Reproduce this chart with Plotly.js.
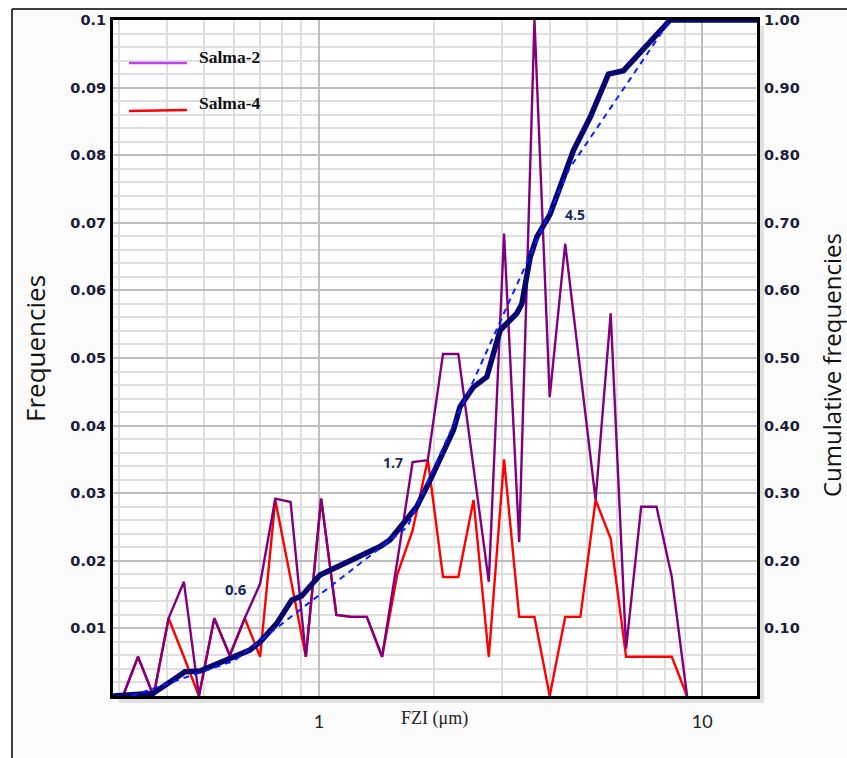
<!DOCTYPE html>
<html>
<head>
<meta charset="utf-8">
<script src="https://cdn.plot.ly/plotly-3.0.1.min.js"></script>
<style>html,body{margin:0;padding:0;background:#fff;}#chart{width:847px;height:758px;}</style>
</head>
<body>
<div id="chart"></div>
<script>
// FZI bin centres (µm)
const fzi = [0.308, 0.337, 0.370, 0.405, 0.444, 0.486, 0.533, 0.585, 0.640, 0.702, 0.769, 0.843, 0.924, 1.013, 1.110, 1.216, 1.333, 1.461, 1.601, 1.755, 1.923, 2.107, 2.310, 2.531, 2.774, 3.04, 3.33, 3.65, 4.00, 4.39, 4.81, 5.27, 5.77, 6.33, 6.93, 7.60, 8.33, 9.13];
// Frequencies
const salma2 = [0, 0.0058, 0, 0.0115, 0.0169, 0, 0.0115, 0.006, 0.0115, 0.0166, 0.0292, 0.0287, 0.0058, 0.0292, 0.012, 0.0117, 0.0117, 0.0058, 0.020, 0.0346, 0.0349, 0.0506, 0.0506, 0.034, 0.0169, 0.0684, 0.0228, 0.1, 0.0442, 0.0669, 0.048, 0.029, 0.0566, 0.007, 0.028, 0.028, 0.0176, 0];
const salma4 = [0, 0.0058, 0, 0.0115, 0.0058, 0, 0.0115, 0.006, 0.0115, 0.0058, 0.029, 0.0175, 0.0058, 0.0292, 0.012, 0.0117, 0.0117, 0.0058, 0.018, 0.0245, 0.035, 0.0176, 0.0176, 0.029, 0.0058, 0.035, 0.0117, 0.0117, 0, 0.0117, 0.0117, 0.029, 0.0233, 0.0058, 0.0058, 0.0058, 0.0058, 0];
// Cumulative frequencies
const cumX = [0.290, 0.369, 0.404, 0.447, 0.489, 0.541, 0.597, 0.660, 0.702, 0.775, 0.849, 0.901, 1.006, 1.112, 1.254, 1.359, 1.443, 1.532, 1.660, 1.799, 1.949, 2.112, 2.242, 2.334, 2.528, 2.741, 2.969, 3.282, 3.383, 3.556, 3.703, 4.010, 4.258, 4.434, 4.613, 5.101, 5.692, 6.232, 6.889, 7.462, 8.087, 8.249, 13.9];
const cumY = [0, 0.004, 0.019, 0.036, 0.037, 0.047, 0.058, 0.068, 0.080, 0.107, 0.142, 0.148, 0.179, 0.191, 0.206, 0.216, 0.221, 0.231, 0.255, 0.280, 0.319, 0.364, 0.393, 0.428, 0.457, 0.472, 0.541, 0.566, 0.580, 0.649, 0.679, 0.713, 0.753, 0.782, 0.807, 0.856, 0.920, 0.925, 0.952, 0.974, 0.994, 1.0, 1.0];
// Fitted straight segments (break points at FZI 0.6, 1.7, 4.5)
const fitX = [0.324, 0.6, 1.7, 4.5, 8.25];
const fitY = [0, 0.052, 0.25, 0.78, 1.0];
// Ticks
const yTickVals = [0.01, 0.02, 0.03, 0.04, 0.05, 0.06, 0.07, 0.08, 0.09, 0.1];
const yTickText = ['0.01', '0.02', '0.03', '0.04', '0.05', '0.06', '0.07', '0.08', '0.09', '0.1'];
const y2TickVals = [0.1, 0.2, 0.3, 0.4, 0.5, 0.6, 0.7, 0.8, 0.9, 1.0];
const y2TickText = ['0.10', '0.20', '0.30', '0.40', '0.50', '0.60', '0.70', '0.80', '0.90', '1.00'];
const xTickVals = [1, 10];
const xTickText = ['1', '10'];
const xMinorVals = [0.3, 0.4, 0.5, 0.6, 0.7, 0.8, 0.9, 2, 3, 4, 5, 6, 7, 8, 9];
const yMinorVals = [];
for (let i = 1; i <= 50; i++) { if (i % 5 !== 0) yMinorVals.push(+(i * 0.002).toFixed(3)); }

const L = 113, R = 757, T = 20, B = 696, W = 847, H = 758;
const px = v => (v - L) / (R - L);
const py = v => (B - v) / (B - T);

const tickFont = {family: 'DejaVu Sans', size: 14.5, color: '#1c1c3c', weight: 'bold'};

const traces = [
  {x: fzi, y: salma4, type: 'scatter', mode: 'lines', name: 'Salma-4', line: {color: '#ff0000', width: 2.4}, xaxis: 'x', yaxis: 'y'},
  {x: fzi, y: salma2, type: 'scatter', mode: 'lines', name: 'Salma-2', line: {color: '#800080', width: 2.4}, xaxis: 'x', yaxis: 'y'},
  {x: cumX, y: cumY, type: 'scatter', mode: 'lines', name: 'Cumulative', line: {color: '#06066e', width: 5.5}, xaxis: 'x', yaxis: 'y2'},
  {x: fitX, y: fitY, type: 'scatter', mode: 'lines', name: 'Fit', line: {color: '#0a1eff', width: 2, dash: '6px,5px'}, xaxis: 'x', yaxis: 'y2'}
];

const layout = {
  width: W, height: H,
  margin: {l: L, r: W - R, t: T, b: H - B, pad: 0},
  paper_bgcolor: '#fbfbfb',
  plot_bgcolor: '#ffffff',
  showlegend: false,
  xaxis: {
    type: 'log', range: [Math.log10(0.29), Math.log10(13.9)],
    tickmode: 'array', tickvals: xTickVals, ticktext: xTickText,
    tickfont: {family: 'Lato', size: 18, color: '#222'},
    ticks: '', ticklabelstandoff: 7,
    showgrid: true, gridcolor: '#bdbdbd', gridwidth: 2,
    minor: {tickmode: 'array', tickvals: xMinorVals, showgrid: true, gridcolor: '#dedede', gridwidth: 2, ticks: ''},
    showline: true, linecolor: '#000', linewidth: 3, mirror: true, zeroline: false
  },
  yaxis: {
    range: [0, 0.1], tickmode: 'array', tickvals: yTickVals, ticktext: yTickText,
    tickfont: tickFont, ticks: '', ticklabelstandoff: 1,
    showgrid: true, gridcolor: '#bdbdbd', gridwidth: 2,
    minor: {tickmode: 'array', tickvals: yMinorVals, showgrid: true, gridcolor: '#dedede', gridwidth: 2, ticks: ''},
    showline: true, linecolor: '#000', linewidth: 3, mirror: true, zeroline: false
  },
  yaxis2: {
    range: [0, 1], overlaying: 'y', side: 'right',
    tickmode: 'array', tickvals: y2TickVals, ticktext: y2TickText,
    tickfont: tickFont, ticks: '', ticklabelstandoff: 6,
    showgrid: false, zeroline: false, showline: false
  },
  shapes: [
    {type: 'rect', xref: 'paper', yref: 'paper', x0: px(R + 1), x1: px(R + 7), y0: py(B + 7), y1: py(T + 6), fillcolor: 'rgba(0,0,0,0.10)', line: {width: 0}},
    {type: 'rect', xref: 'paper', yref: 'paper', x0: px(L + 6), x1: px(R + 1), y0: py(B + 7), y1: py(B + 1), fillcolor: 'rgba(0,0,0,0.10)', line: {width: 0}},
    {type: 'rect', xref: 'paper', yref: 'paper', x0: px(0), x1: px(12), y0: py(H), y1: py(0), fillcolor: '#ffffff', line: {width: 0}},
    {type: 'rect', xref: 'paper', yref: 'paper', x0: px(0), x1: px(W), y0: py(9), y1: py(0), fillcolor: '#ffffff', line: {width: 0}},
    {type: 'line', xref: 'paper', yref: 'paper', x0: px(12), x1: px(12), y0: py(H), y1: py(9), line: {color: '#000', width: 1.5}},
    {type: 'line', xref: 'paper', yref: 'paper', x0: px(12), x1: px(W), y0: py(9), y1: py(9), line: {color: '#000', width: 1.5}},
    {type: 'line', xref: 'paper', yref: 'paper', x0: px(129), x1: px(187), y0: py(63), y1: py(63), line: {color: '#c040f0', width: 2.5}},
    {type: 'line', xref: 'paper', yref: 'paper', x0: px(129), x1: px(187), y0: py(111), y1: py(110), line: {color: '#ff0000', width: 2.5}}
  ],
  annotations: [
    {xref: 'paper', yref: 'paper', x: px(197), y: py(57), xanchor: 'left', yanchor: 'middle', text: 'Salma-2', showarrow: false, font: {family: 'Liberation Serif', size: 17.5, color: '#111', weight: 'bold'}},
    {xref: 'paper', yref: 'paper', x: px(197), y: py(103), xanchor: 'left', yanchor: 'middle', text: 'Salma-4', showarrow: false, font: {family: 'Liberation Serif', size: 17.5, color: '#111', weight: 'bold'}},
    {xref: 'paper', yref: 'paper', x: px(35), y: py(349), xanchor: 'center', yanchor: 'middle', textangle: -90, text: 'Frequencies', showarrow: false, font: {family: 'Open Sans', size: 26, color: '#111'}},
    {xref: 'paper', yref: 'paper', x: px(831), y: py(365), xanchor: 'center', yanchor: 'middle', textangle: -90, text: 'Cumulative frequencies', showarrow: false, font: {family: 'Open Sans', size: 24, color: '#111'}},
    {xref: 'paper', yref: 'paper', x: px(434), y: py(719), xanchor: 'center', yanchor: 'middle', text: 'FZI (μm)', showarrow: false, font: {family: 'Liberation Serif', size: 18, color: '#222'}},
    {xref: 'paper', yref: 'paper', x: px(236), y: py(589), xanchor: 'center', yanchor: 'middle', text: '0.6', showarrow: false, font: {family: 'Open Sans', size: 15, color: '#1a2a5a', weight: 'bold'}},
    {xref: 'paper', yref: 'paper', x: px(393), y: py(462), xanchor: 'center', yanchor: 'middle', text: '1.7', showarrow: false, font: {family: 'Open Sans', size: 14, color: '#1a2a5a', weight: 'bold'}},
    {xref: 'paper', yref: 'paper', x: px(575), y: py(215), xanchor: 'center', yanchor: 'middle', text: '4.5', showarrow: false, font: {family: 'Open Sans', size: 14, color: '#1a2a5a', weight: 'bold'}}
  ]
};

Plotly.newPlot('chart', traces, layout, {displayModeBar: false, staticPlot: true});
</script>
</body>
</html>
